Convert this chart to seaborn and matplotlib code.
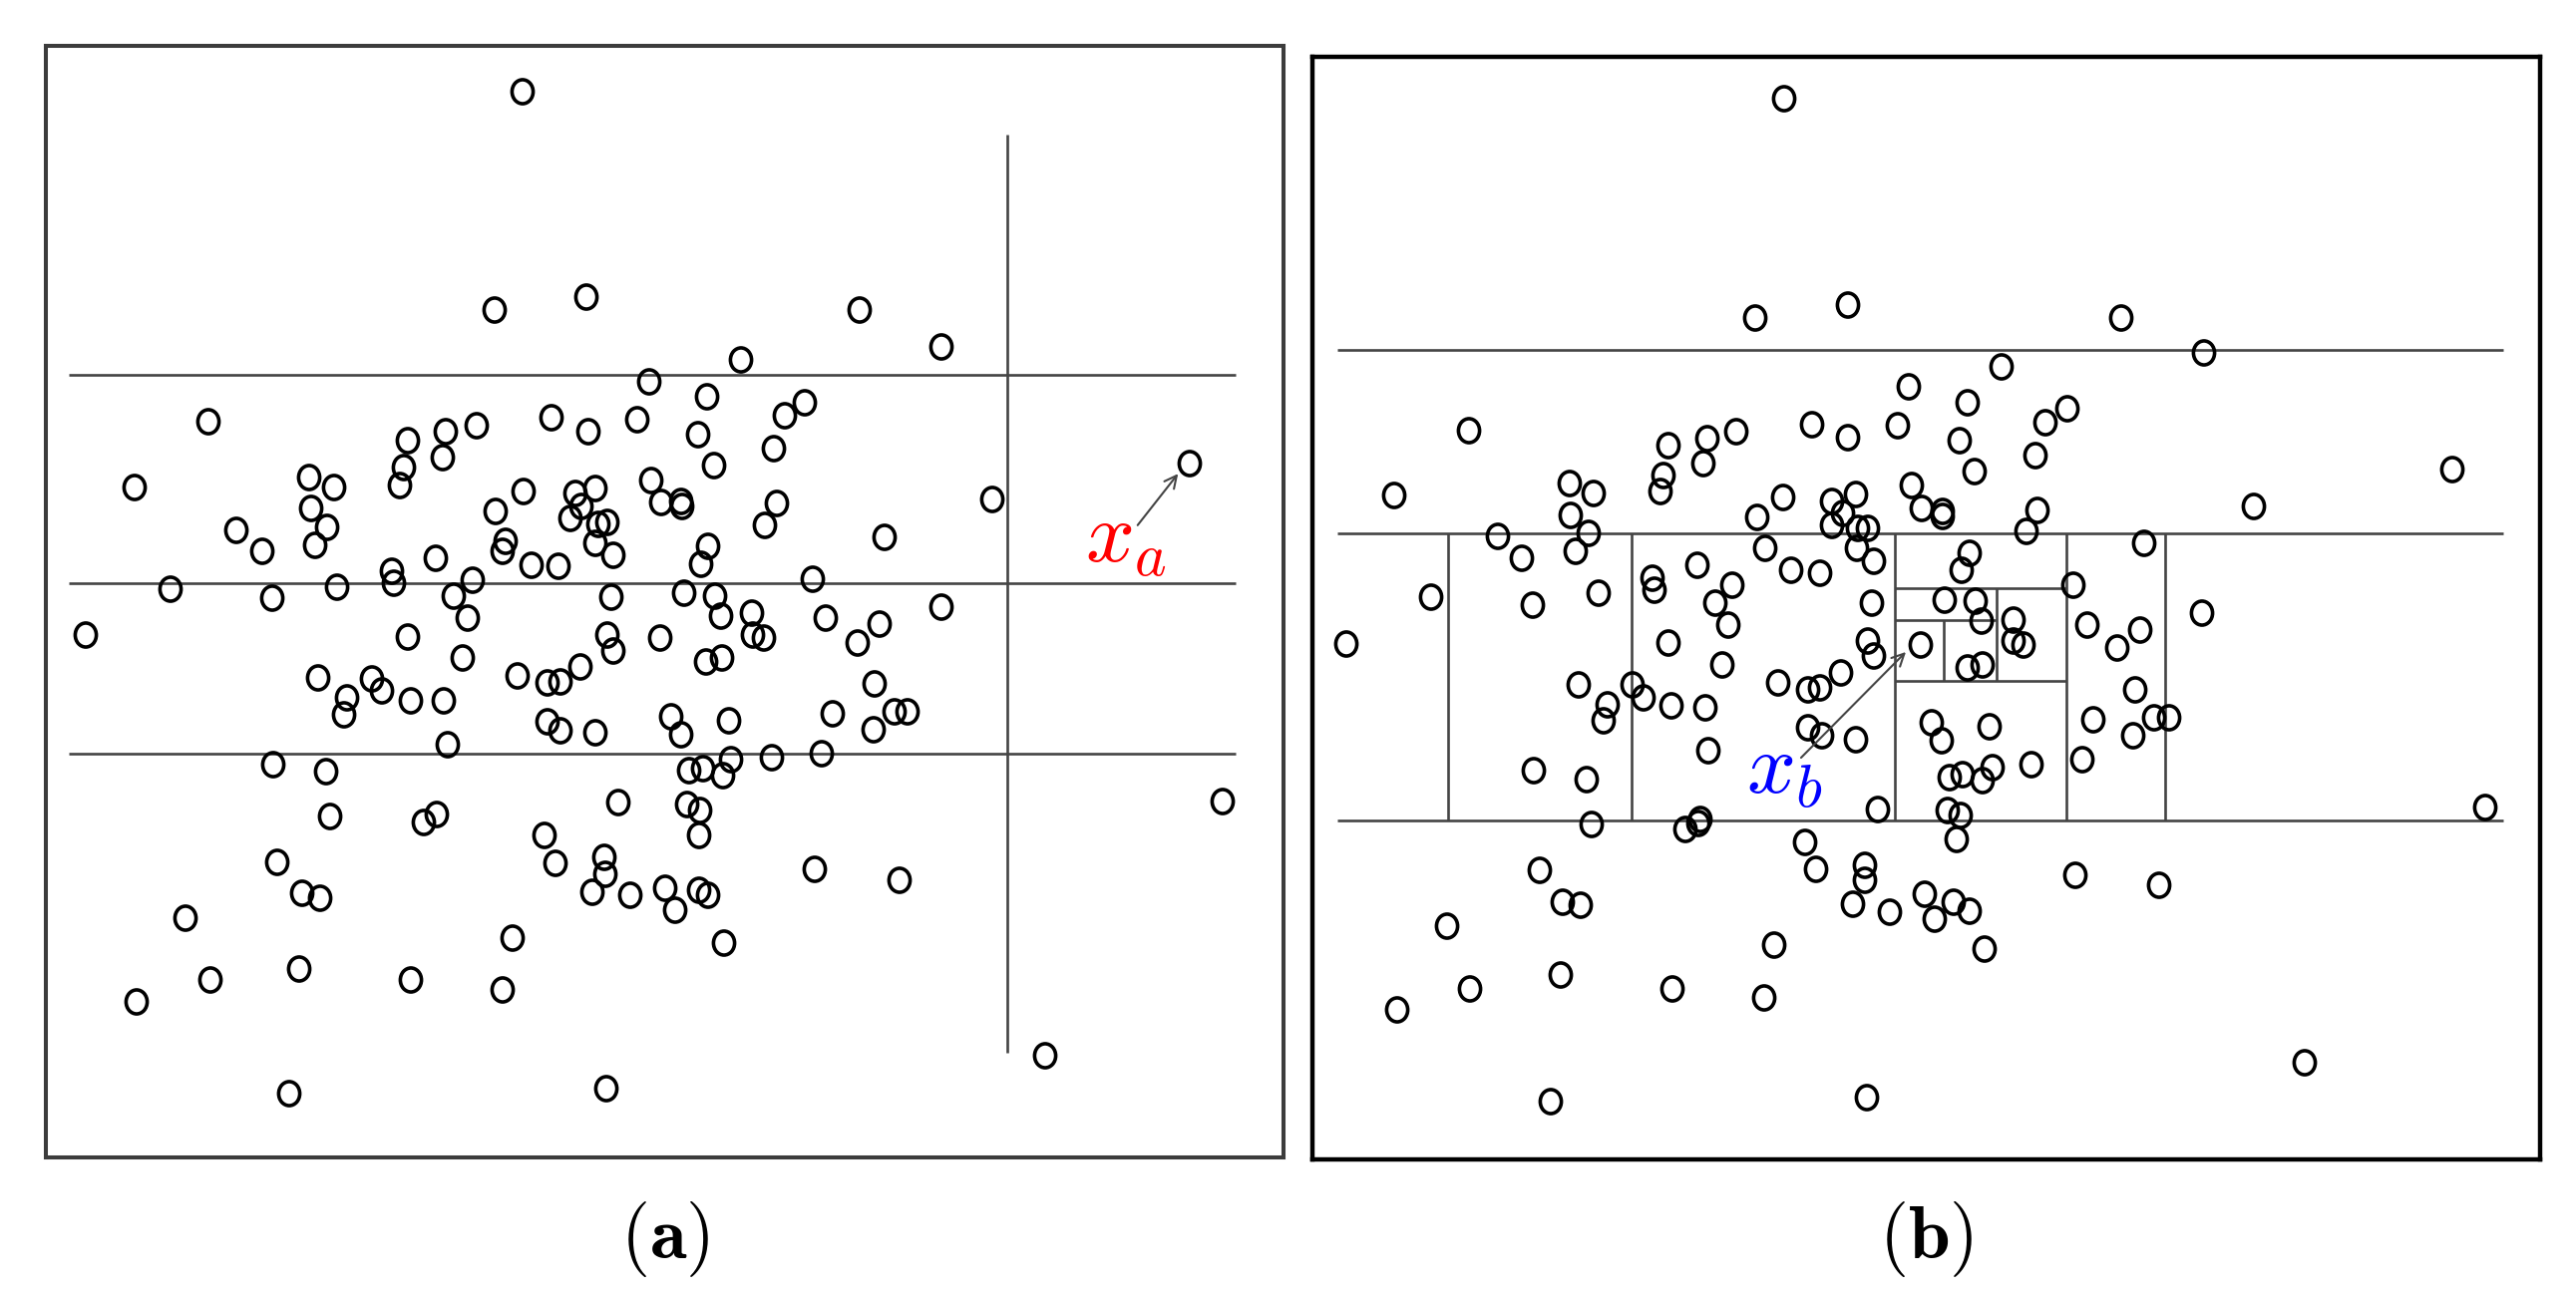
import matplotlib
matplotlib.use("Agg")
import matplotlib.pyplot as plt
from matplotlib.path import Path
from matplotlib.transforms import Affine2D
import seaborn as sns

# point positions (image pixel units, y grows downwards)
a_pts = [(524, 92), (588, 298), (496, 311), (862, 311), (944, 348), (743, 361),
         (651, 383), (709, 398), (807, 404), (787, 417), (553, 419), (590, 433), (639, 421), (478, 427), (447, 433), (209, 423),
         (444, 459), (409, 442), (405, 469), (401, 487), (700, 436), (716, 467), (776, 450), (1193, 465),
         (310, 479), (335, 489), (312, 510), (328, 529), (316, 547), (263, 553), (135, 489), (237, 532),
         (525, 493), (497, 513), (577, 495), (597, 490), (583, 508), (572, 520), (600, 526), (609, 524), (597, 545), (615, 557),
         (653, 482), (663, 504), (683, 503), (684, 508), (779, 505), (767, 527), (995, 501), (887, 539),
         (507, 543), (504, 553), (437, 560), (533, 567), (560, 568), (710, 548), (703, 566),
         (393, 573), (395, 585), (474, 582), (338, 589), (273, 600), (455, 598), (469, 620), (171, 591),
         (613, 599), (686, 595), (717, 598), (723, 618), (754, 615), (755, 637), (766, 640), (815, 581), (944, 609),
         (828, 620), (882, 626), (860, 645),
         (409, 639), (662, 640), (609, 637), (615, 653), (464, 660), (724, 660), (708, 664), (86, 637),
         (319, 680), (373, 681), (383, 693), (348, 700), (345, 717), (412, 703), (445, 703), (519, 678), (582, 669),
         (549, 685), (562, 684), (877, 686),
         (549, 724), (562, 733), (597, 735), (673, 719), (683, 737), (731, 723), (835, 716), (897, 714), (910, 714), (876, 732),
         (449, 747), (274, 767), (327, 774), (691, 773), (705, 771), (733, 762), (725, 778), (774, 760), (824, 756),
         (620, 805), (689, 807), (702, 813), (1226, 804), (331, 819), (425, 825), (438, 817),
         (701, 838), (546, 838), (557, 866), (606, 860), (607, 877), (817, 872), (902, 883), (278, 865),
         (594, 895), (632, 898), (667, 891), (701, 893), (710, 898), (303, 896), (321, 901), (677, 913), (186, 921),
         (514, 941), (726, 946), (300, 972), (211, 983), (412, 983), (504, 993), (137, 1005), (1048, 1059), (290, 1097), (608, 1092)]

b_pts = [(1789, 99), (1853, 306), (1760, 319), (2127, 319), (2210, 354), (2007, 368), (1914, 388), (1973, 404), (2073, 410), (2051, 424),
         (1817, 426), (1903, 427), (1853, 439), (1965, 442), (1741, 433), (1712, 440), (1673, 447), (1473, 432), (2041, 457),
         (1708, 465), (1980, 473), (2459, 471),
         (1668, 477), (1665, 493), (1574, 485), (1598, 495), (1398, 497), (1788, 499), (1861, 496), (1917, 487), (1837, 503),
         (1848, 515), (1837, 527), (1762, 519),
         (1927, 510), (1948, 513), (1948, 518), (2043, 512), (2260, 508), (1575, 517), (1593, 535), (1502, 538), (1863, 530),
         (1873, 530), (2032, 533),
         (1526, 560), (1580, 553), (1862, 550), (1975, 555), (2150, 545), (1879, 563), (1702, 567), (1967, 572), (1825, 575),
         (1770, 550), (1796, 572),
         (1657, 580), (1659, 592), (1737, 587), (2079, 587), (1435, 599), (1537, 607), (1603, 595), (1720, 605), (1877, 605),
         (1950, 602), (1981, 603), (2208, 615),
         (1733, 627), (1987, 623), (2019, 622), (2093, 627), (2146, 632), (1350, 646), (1673, 645), (1873, 643), (2019, 643),
         (2029, 647), (1926, 647), (2123, 650),
         (1879, 658), (1727, 667), (1973, 670), (1988, 667), (1846, 675), (1783, 685), (1583, 687), (1637, 687), (1648, 700),
         (1813, 692), (1825, 690), (2141, 692),
         (1612, 707), (1608, 723), (1676, 708), (1710, 710), (2099, 722), (2160, 720), (2175, 720), (1937, 725), (1995, 729),
         (1813, 730),
         (1827, 738), (1861, 742), (1947, 743), (2139, 738), (1713, 753), (2088, 762), (2037, 767), (1998, 770), (1538, 773),
         (1591, 782), (1988, 783), (1955, 780), (1968, 777),
         (1883, 812), (2492, 810), (1953, 813), (1966, 818), (1705, 822), (1596, 827), (1690, 832), (1703, 826), (1962, 842),
         (1810, 845),
         (1821, 872), (1870, 868), (1870, 883), (1544, 873), (2081, 878), (2165, 888), (1930, 897), (1858, 907), (1959, 905),
         (1567, 905), (1585, 908), (1895, 915), (1975, 914), (1940, 922),
         (1451, 929), (1779, 948), (1990, 952), (1565, 978), (1474, 992), (1677, 992), (1769, 1001), (1401, 1013), (2311, 1066),
         (1872, 1101), (1555, 1105)]

# split lines of the two partitions
a_hsplit_y = [376, 585, 756]
a_hsplit_x = (69, 1239)
a_vsplit = (1010, 135, 1056)            # x, y from, y to

b_hsplits = [(351, 1341, 2510), (535, 1341, 2510), (823, 1341, 2510),
             (590, 1900, 2072), (683, 1900, 2072), (622, 1900, 2002)]   # y, x from, x to
b_vsplits = [(1452, 535, 823), (1636, 535, 823), (1900, 535, 823), (2072, 535, 823),
             (2171, 535, 823), (2002, 590, 683), (1949, 622, 683)]      # x, y from, y to

# highlighted points and their labels
xa_arrow = ((1139, 529), (1183, 473))
xb_arrow = ((1804, 762), (1913, 652))
xa_text = (1088, 563)
xb_text = (1751, 795)

# panel extents in image pixels: left, right, top, bottom
a_box = (46, 1287, 46, 1161)
b_box = (1316, 2547, 57, 1163)

W, H = 2583, 1300

sns.set_style("white")
plt.rcParams["mathtext.fontset"] = "cm"

fig = plt.figure(figsize=(W / 100, H / 100), dpi=100)

# the circles in the original are a little taller than wide
oval = Path.unit_circle().transformed(Affine2D().scale(0.88, 1.0))


def make_axes(box, edge, lw):
    l, r, t, b = box
    ax = fig.add_axes([l / W, (H - b) / H, (r - l) / W, (b - t) / H])
    ax.set_xlim(l, r)
    ax.set_ylim(b, t)
    ax.set_xticks([])
    ax.set_yticks([])
    for sp in ax.spines.values():
        sp.set_visible(True)
        sp.set_color(edge)
        sp.set_linewidth(lw)
    return ax


ax_a = make_axes(a_box, "#3c3c3c", 2.9)
ax_b = make_axes(b_box, "black", 3.2)

line_col = "#444444"
line_w = 1.9
pt_kw = dict(marker=oval, s=300, facecolor="none", edgecolor="black", linewidth=2.6, zorder=3)

# panel (a)
ax_a.hlines(a_hsplit_y, *a_hsplit_x, color=line_col, lw=line_w)
ax_a.vlines(a_vsplit[0], a_vsplit[1], a_vsplit[2], color=line_col, lw=line_w)
ax_x, ax_y = zip(*a_pts)
sns.scatterplot(x=list(ax_x), y=list(ax_y), ax=ax_a, **pt_kw)
ax_a.annotate("", xy=xa_arrow[1], xytext=xa_arrow[0],
              arrowprops=dict(arrowstyle="->", color="#444444", lw=1.5, mutation_scale=22))
ax_a.text(*xa_text, r"$x_a$", color="red", fontsize=62, ha="left", va="baseline")

# panel (b)
for y, x0, x1 in b_hsplits:
    ax_b.hlines(y, x0, x1, color=line_col, lw=line_w)
for x, y0, y1 in b_vsplits:
    ax_b.vlines(x, y0, y1, color=line_col, lw=line_w)
bx, by = zip(*b_pts)
sns.scatterplot(x=list(bx), y=list(by), ax=ax_b, **pt_kw)
ax_b.annotate("", xy=xb_arrow[1], xytext=xb_arrow[0],
              arrowprops=dict(arrowstyle="->", color="#444444", lw=1.5, mutation_scale=22))
ax_b.text(*xb_text, r"$x_b$", color="blue", fontsize=62, ha="left", va="baseline")

# sub-figure captions
fig.text(667 / W, 1 - 1243 / H, r"$(\mathbf{a})$", fontsize=54, color="black", ha="center", va="center")
fig.text(1931 / W, 1 - 1243 / H, r"$(\mathbf{b})$", fontsize=54, color="black", ha="center", va="center")

fig.savefig("out.png", dpi=100, facecolor="white")
